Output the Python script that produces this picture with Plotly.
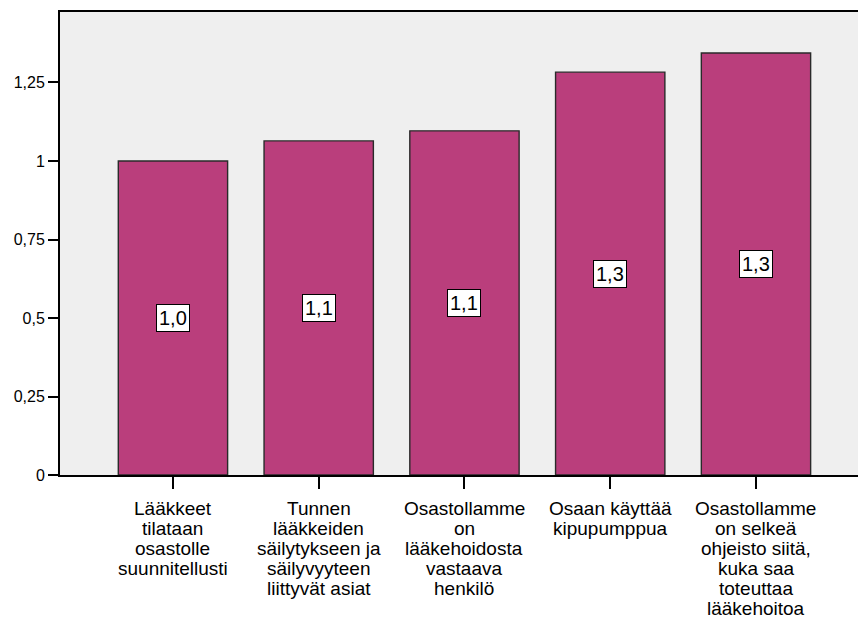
import plotly.graph_objects as go

# Mean scores per statement
categories = [
    ["Lääkkeet", "tilataan", "osastolle", "suunnitellusti"],
    ["Tunnen", "lääkkeiden", "säilytykseen ja", "säilyvyyteen", "liittyvät asiat"],
    ["Osastollamme", "on", "lääkehoidosta", "vastaava", "henkilö"],
    ["Osaan käyttää", "kipupumppua"],
    ["Osastollamme", "on selkeä", "ohjeisto siitä,", "kuka saa", "toteuttaa", "lääkehoitoa"],
]
values = [1.0, 1.064, 1.096, 1.283, 1.344]
value_labels = ["1,0", "1,1", "1,1", "1,3", "1,3"]

ytick_vals = [0, 0.25, 0.5, 0.75, 1.0, 1.25]
ytick_text = ["0", "0,25", "0,5", "0,75", "1", "1,25"]

BAR_COLOR = "#BA3E7C"
FONT = "Liberation Sans, Arial, sans-serif"
CAT_FONT_SIZE = 19
CAT_LINE_STEP = 20     # px between category label lines
CAT_FIRST_SHIFT = 33   # px from x-axis down to the first line's centre

x_pos = list(range(len(categories)))

fig = go.Figure()
fig.add_trace(go.Bar(
    x=x_pos,
    y=values,
    width=0.75,
    marker=dict(color=BAR_COLOR, line=dict(color="#2a2a2a", width=1.4)),
    hoverinfo="skip",
))

# Value labels in white boxes at bar mid-height
for i, (v, lab) in enumerate(zip(values, value_labels)):
    fig.add_annotation(
        x=i, y=v / 2, text=lab, showarrow=False,
        font=dict(family=FONT, size=20, color="black"),
        bgcolor="white", bordercolor="black", borderwidth=1, borderpad=2,
    )

# Multi-line category labels under each tick, with tight line spacing
for i, lines in enumerate(categories):
    for k, line in enumerate(lines):
        fig.add_annotation(
            x=i, xref="x", y=0, yref="paper",
            text=line, showarrow=False,
            xanchor="center", yanchor="middle",
            yshift=-(CAT_FIRST_SHIFT + k * CAT_LINE_STEP),
            font=dict(family=FONT, size=CAT_FONT_SIZE, color="black"),
        )

fig.update_layout(
    width=858, height=619,
    margin=dict(l=60, r=0, t=12, b=144),
    paper_bgcolor="white",
    plot_bgcolor="#EFEFEF",
    showlegend=False,
    bargap=0.25,
    font=dict(family=FONT, size=16, color="black"),
    xaxis=dict(
        tickmode="array",
        tickvals=x_pos,
        showticklabels=False,
        range=[-0.775, 4.70],
        showline=True, linecolor="black", linewidth=2, mirror=True,
        ticks="outside", ticklen=12, tickwidth=2, tickcolor="black",
        showgrid=False, zeroline=False,
        fixedrange=True,
    ),
    yaxis=dict(
        tickmode="array",
        tickvals=ytick_vals,
        ticktext=ytick_text,
        range=[0, 1.4745],
        showline=True, linecolor="black", linewidth=2,
        ticks="outside", ticklen=10, tickwidth=2, tickcolor="black",
        showgrid=False, zeroline=False,
        tickfont=dict(family=FONT, size=16, color="black"),
        fixedrange=True,
    ),
)

fig.write_html("out.html")
